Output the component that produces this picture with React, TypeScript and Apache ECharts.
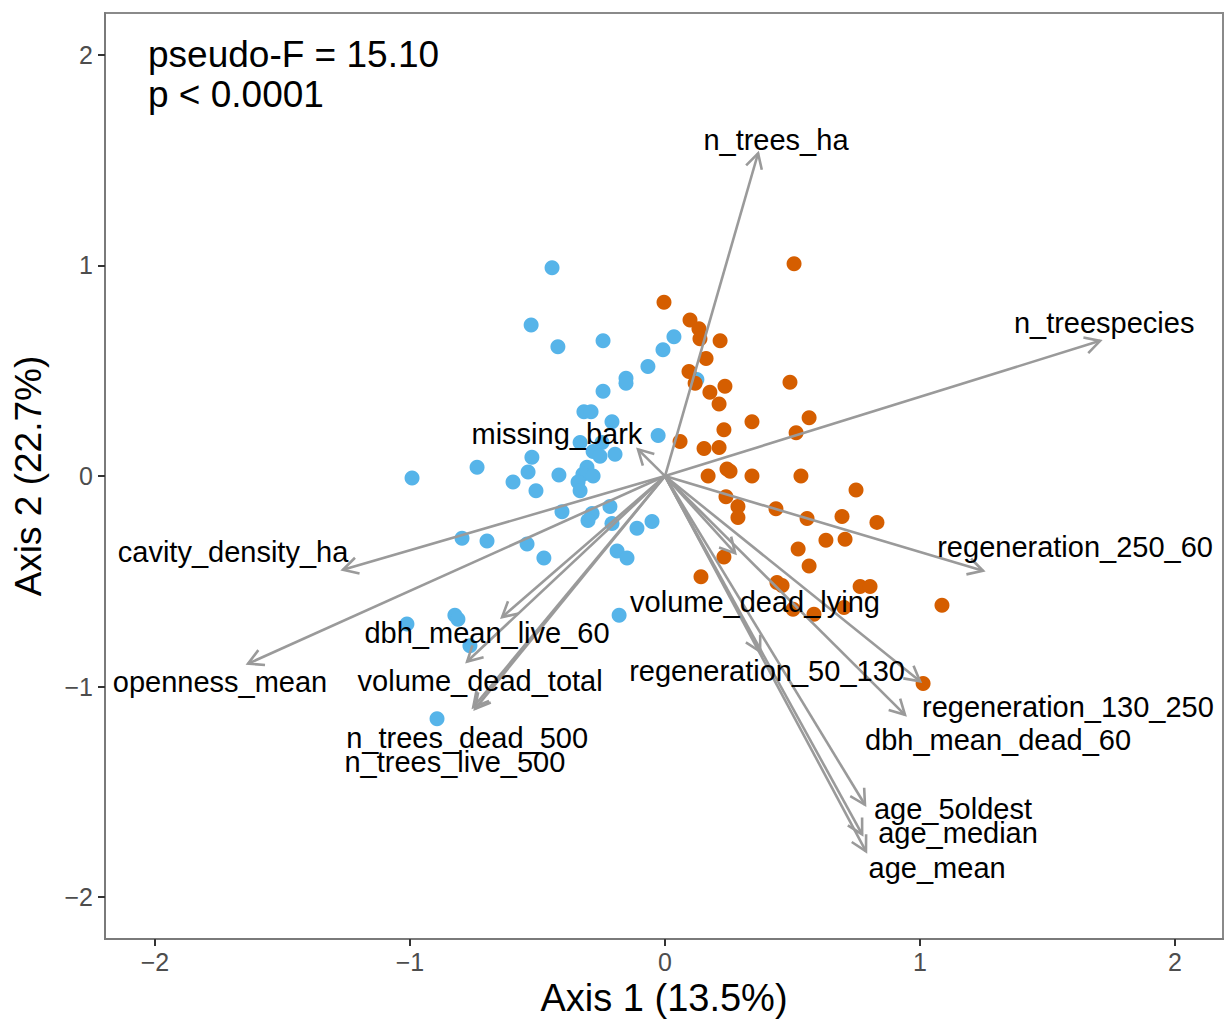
import React, { useEffect, useRef } from "react";
import * as echarts from "echarts";

const FONT = "Liberation Sans, Arial, Helvetica, sans-serif";

const bluePoints: [number, number][] = [
  [-0.443, 0.989], [-0.525, 0.717], [-0.42, 0.614], [-0.243, 0.642], [0.035, 0.661],
  [-0.008, 0.6], [-0.067, 0.52], [-0.153, 0.464], [-0.153, 0.441], [-0.243, 0.403],
  [-0.318, 0.305], [-0.29, 0.305], [-0.208, 0.258], [-0.027, 0.192], [0.125, 0.459],
  [-0.333, 0.159], [-0.247, 0.159], [-0.282, 0.117], [-0.255, 0.094], [-0.196, 0.103],
  [-0.522, 0.089], [-0.737, 0.042], [-0.992, -0.009], [-0.537, 0.019], [-0.416, 0.005],
  [-0.306, 0.042], [-0.322, 0.009], [-0.282, 0.0], [-0.596, -0.028], [-0.506, -0.07],
  [-0.341, -0.028], [-0.333, -0.07], [-0.404, -0.169], [-0.216, -0.145], [-0.286, -0.178],
  [-0.302, -0.211], [-0.208, -0.225], [-0.11, -0.248], [-0.051, -0.216], [-0.796, -0.295],
  [-0.698, -0.309], [-0.541, -0.323], [-0.475, -0.389], [-0.188, -0.356], [-0.149, -0.389],
  [-1.012, -0.703], [-0.824, -0.661], [-0.812, -0.68], [-0.765, -0.806], [-0.18, -0.661],
  [-0.894, -1.153],
];

const orangePoints: [number, number][] = [
  [0.506, 1.008], [-0.004, 0.825], [0.098, 0.741], [0.133, 0.699], [0.137, 0.652],
  [0.216, 0.642], [0.161, 0.558], [0.094, 0.497], [0.118, 0.441], [0.235, 0.427],
  [0.176, 0.398], [0.212, 0.342], [0.49, 0.445], [0.341, 0.258], [0.565, 0.277],
  [0.514, 0.206], [0.231, 0.22], [0.059, 0.164], [0.153, 0.131], [0.212, 0.136],
  [0.243, 0.033], [0.255, 0.023], [0.169, 0.0], [0.341, 0.0], [0.533, 0.0],
  [0.749, -0.066], [0.239, -0.098], [0.286, -0.145], [0.286, -0.197], [0.435, -0.155],
  [0.557, -0.202], [0.694, -0.192], [0.831, -0.22], [0.631, -0.305], [0.706, -0.3],
  [0.522, -0.347], [0.565, -0.427], [0.231, -0.384], [0.141, -0.478], [0.439, -0.506],
  [0.459, -0.52], [0.765, -0.525], [0.804, -0.525], [0.502, -0.633], [0.584, -0.656],
  [0.702, -0.624], [1.086, -0.614], [1.012, -0.985],
];

const arrowNames: string[] = [
  "n_trees_ha", "n_treespecies", "missing_bark", "cavity_density_ha", "openness_mean",
  "dbh_mean_live_60", "volume_dead_total", "n_trees_dead_500", "n_trees_live_500",
  "regeneration_250_60", "volume_dead_lying", "regeneration_50_130", "regeneration_130_250",
  "dbh_mean_dead_60", "age_5oldest", "age_median", "age_mean",
];
const arrowX: number[] = [
  0.365, 1.706, -0.106, -1.263, -1.635, -0.639, -0.776, -0.745, -0.752,
  1.247, 0.275, 0.373, 1.0, 0.941, 0.784, 0.773, 0.788,
];
const arrowY: number[] = [
  1.533, 0.642, 0.127, -0.445, -0.891, -0.67, -0.881, -1.106, -1.098,
  -0.45, -0.366, -0.834, -0.975, -1.134, -1.561, -1.702, -1.782,
];
const labelX: number[] = [
  0.435, 1.722, -0.424, -1.694, -1.745, -0.698, -0.725, -0.776, -0.824,
  1.608, 0.353, 0.4, 1.58, 1.306, 1.129, 1.149, 1.067,
];
const labelY: number[] = [
  1.617, 0.745, 0.22, -0.342, -0.961, -0.727, -0.956, -1.224, -1.341,
  -0.319, -0.577, -0.905, -1.078, -1.233, -1.561, -1.678, -1.842,
];

const tickValues: number[] = [-2, -1, 0, 1, 2];
const statsText = ["pseudo-F = 15.10", "p < 0.0001"];
const xTitle = "Axis 1 (13.5%)";
const yTitle = "Axis 2 (22.7%)";

const fmt = (v: number) => (v < 0 ? "\u2212" + Math.abs(v) : String(v));

export default function App() {
  const ref = useRef<HTMLDivElement>(null);
  useEffect(() => {
    if (!ref.current) return;
    const chart = echarts.init(ref.current, undefined, { renderer: "svg" });
    const arrowColor = "#9a9a9a";
    const axisGray = "#8a8a8a";
    const axisCommon = {
      splitLine: { show: false },
      axisLine: { show: true, onZero: false, lineStyle: { color: "#7a7a7a", width: 2 } },
      axisTick: {
        show: true,
        customValues: tickValues,
        length: 7,
        lineStyle: { color: "#333", width: 2 },
      },
    };
    const option: any = {
      animation: false,
      backgroundColor: "#ffffff",
      grid: {
        left: 105,
        top: 13,
        width: 1118,
        height: 938,
        show: true,
        borderColor: axisGray,
        borderWidth: 2,
        backgroundColor: "transparent",
      },
      xAxis: {
        type: "value",
        min: -2.196,
        max: 2.188,
        ...axisCommon,
        axisLabel: {
          customValues: tickValues,
          formatter: fmt,
          color: "#4d4d4d",
          fontSize: 25,
          fontFamily: FONT,
          margin: 10,
        },
        name: xTitle,
        nameLocation: "middle",
        nameGap: 30,
        nameTextStyle: { color: "#000", fontSize: 38, fontFamily: FONT, verticalAlign: "top" },
      },
      yAxis: {
        type: "value",
        min: -2.199,
        max: 2.199,
        ...axisCommon,
        axisLabel: {
          customValues: tickValues,
          formatter: fmt,
          color: "#4d4d4d",
          fontSize: 25,
          fontFamily: FONT,
          margin: 12,
        },
        name: yTitle,
        nameLocation: "middle",
        nameGap: 58,
        nameTextStyle: { color: "#000", fontSize: 37, fontFamily: FONT },
      },
      graphic: [
        {
          type: "text",
          left: 148,
          top: 34,
          z: 100,
          style: {
            text: statsText.join("\n"),
            fontSize: 37,
            lineHeight: 40,
            fill: "#000",
            fontFamily: FONT,
          },
        },
      ],
      series: [
        {
          type: "scatter",
          data: bluePoints,
          symbolSize: 15,
          itemStyle: { color: "#56B4E9", opacity: 1 },
          z: 2,
        },
        {
          type: "scatter",
          data: orangePoints,
          symbolSize: 15,
          itemStyle: { color: "#D55E00", opacity: 1 },
          z: 2,
        },
        {
          type: "custom",
          z: 5,
          data: arrowX.map((x, i) => [x, arrowY[i]]),
          encode: { x: 0, y: 1 },
          renderItem: (params: any, api: any) => {
            const o = api.coord([0, 0]);
            const e = api.coord([api.value(0), api.value(1)]);
            const a = Math.atan2(e[1] - o[1], e[0] - o[0]);
            const L = 17;
            const h = 0.5;
            const p1 = [e[0] - L * Math.cos(a - h), e[1] - L * Math.sin(a - h)];
            const p2 = [e[0] - L * Math.cos(a + h), e[1] - L * Math.sin(a + h)];
            return {
              type: "group",
              children: [
                {
                  type: "line",
                  shape: { x1: o[0], y1: o[1], x2: e[0], y2: e[1] },
                  style: { stroke: arrowColor, lineWidth: 2.6 },
                },
                {
                  type: "polyline",
                  shape: { points: [p1, e, p2] },
                  style: { stroke: arrowColor, lineWidth: 2.6, fill: null },
                },
              ],
            };
          },
        },
        {
          type: "custom",
          z: 6,
          data: labelX.map((x, i) => [x, labelY[i]]),
          encode: { x: 0, y: 1 },
          renderItem: (params: any, api: any) => {
            const p = api.coord([api.value(0), api.value(1)]);
            return {
              type: "text",
              x: p[0],
              y: p[1] + 4,
              style: {
                text: arrowNames[params.dataIndex],
                fontSize: 29,
                fontFamily: FONT,
                fill: "#000",
                align: "center",
                verticalAlign: "middle",
              },
            };
          },
        },
      ],
    };
    chart.setOption(option);
    return () => chart.dispose();
  }, []);
  return (
    <div
      ref={ref}
      style={{ position: "absolute", left: 0, top: 0, width: 1224, height: 1022 }}
    />
  );
}
